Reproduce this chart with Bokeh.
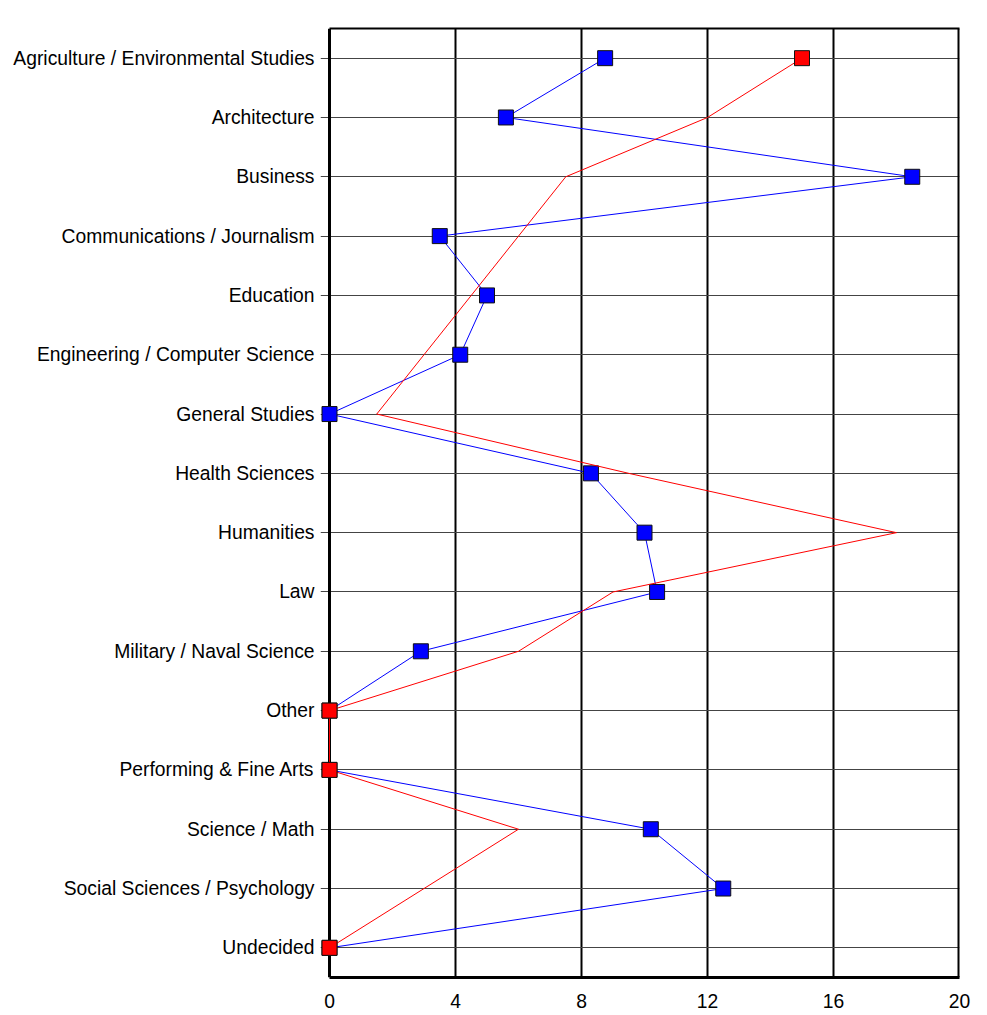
from bokeh.plotting import figure
from bokeh.models import ColumnDataSource, FixedTicker, Span, LinearAxis
from bokeh.embed import file_html
from bokeh.resources import INLINE

categories = [
    "Agriculture / Environmental Studies", "Architecture", "Business",
    "Communications / Journalism", "Education", "Engineering / Computer Science",
    "General Studies", "Health Sciences", "Humanities", "Law",
    "Military / Naval Science", "Other", "Performing & Fine Arts",
    "Science / Math", "Social Sciences / Psychology", "Undecided",
]
blue_values = [8.75, 5.6, 18.5, 3.5, 5.0, 4.15, 0, 8.3, 10.0, 10.4, 2.9, 0, 0, 10.2, 12.5, 0]
red_values = [15, 12, 7.5, 6, 4.5, 3, 1.5, 9.5, 18, 9, 6, 0, 0, 6, 3, 0]
red_marked = [True, False, False, False, False, False, False, False, False, False, False, True, True, False, False, True]
x_ticks = [0, 4, 8, 12, 16, 20]
x_min, x_max = 0, 20

FONT = "Liberation Sans"
PAD = 9 / 31.5  # small room left of the axis so markers at 0 are not cut

p = figure(
    y_range=list(reversed(categories)), x_range=(x_min - PAD, x_max),
    frame_width=639, frame_height=949,
    min_border_left=320, min_border_right=20, min_border_top=28, min_border_bottom=36,
    output_backend="svg", toolbar_location=None,
)
p.background_fill_color = "white"
p.border_fill_color = "white"
p.outline_line_color = None

p.xaxis.ticker = FixedTicker(ticks=x_ticks)
p.xaxis.bounds = (x_min, x_max)
p.xaxis.axis_line_color = "black"
p.xaxis.axis_line_width = 3
p.yaxis.axis_line_color = None
for ax in (p.xaxis[0], p.yaxis[0]):
    ax.major_tick_line_color = None
    ax.minor_tick_line_color = None
    ax.major_tick_out = 0
    ax.major_tick_in = 0
    ax.major_label_text_font = FONT
    ax.major_label_text_font_size = "19.3px"
    ax.major_label_text_color = "black"
p.xaxis.major_label_standoff = 16
p.yaxis.major_label_standoff = 6

# top frame line
top = LinearAxis(ticker=FixedTicker(ticks=[]), bounds=(x_min, x_max),
                 axis_line_color="black", axis_line_width=2,
                 major_tick_line_color=None, minor_tick_line_color=None,
                 major_tick_out=0, major_tick_in=0)
p.add_layout(top, "above")

p.xgrid.ticker = FixedTicker(ticks=x_ticks[1:-1])
p.xgrid.grid_line_color = "black"
p.xgrid.grid_line_width = 2
p.ygrid.grid_line_color = "#444444"
p.ygrid.grid_line_width = 1

# left axis line at 0 and right frame line, under the markers
p.add_layout(Span(location=x_min, dimension="height", line_color="black", line_width=3, level="underlay"))
p.add_layout(Span(location=x_max, dimension="height", line_color="black", line_width=4, level="underlay"))

blue_src = ColumnDataSource(dict(y=categories, x=blue_values))
red_src = ColumnDataSource(dict(y=categories, x=red_values))
red_mk = ColumnDataSource(dict(
    y=[c for c, m in zip(categories, red_marked) if m],
    x=[v for v, m in zip(red_values, red_marked) if m],
))

p.line("x", "y", source=blue_src, line_color="#0000ff", line_width=1)
p.scatter("x", "y", source=blue_src, marker="square", size=15,
          fill_color="#0000ff", line_color="#111111", line_width=1)
p.line("x", "y", source=red_src, line_color="#ff0000", line_width=1)
p.scatter("x", "y", source=red_mk, marker="square", size=15,
          fill_color="#ff0000", line_color="#111111", line_width=1)

open("out.html", "w").write(file_html(p, INLINE))
